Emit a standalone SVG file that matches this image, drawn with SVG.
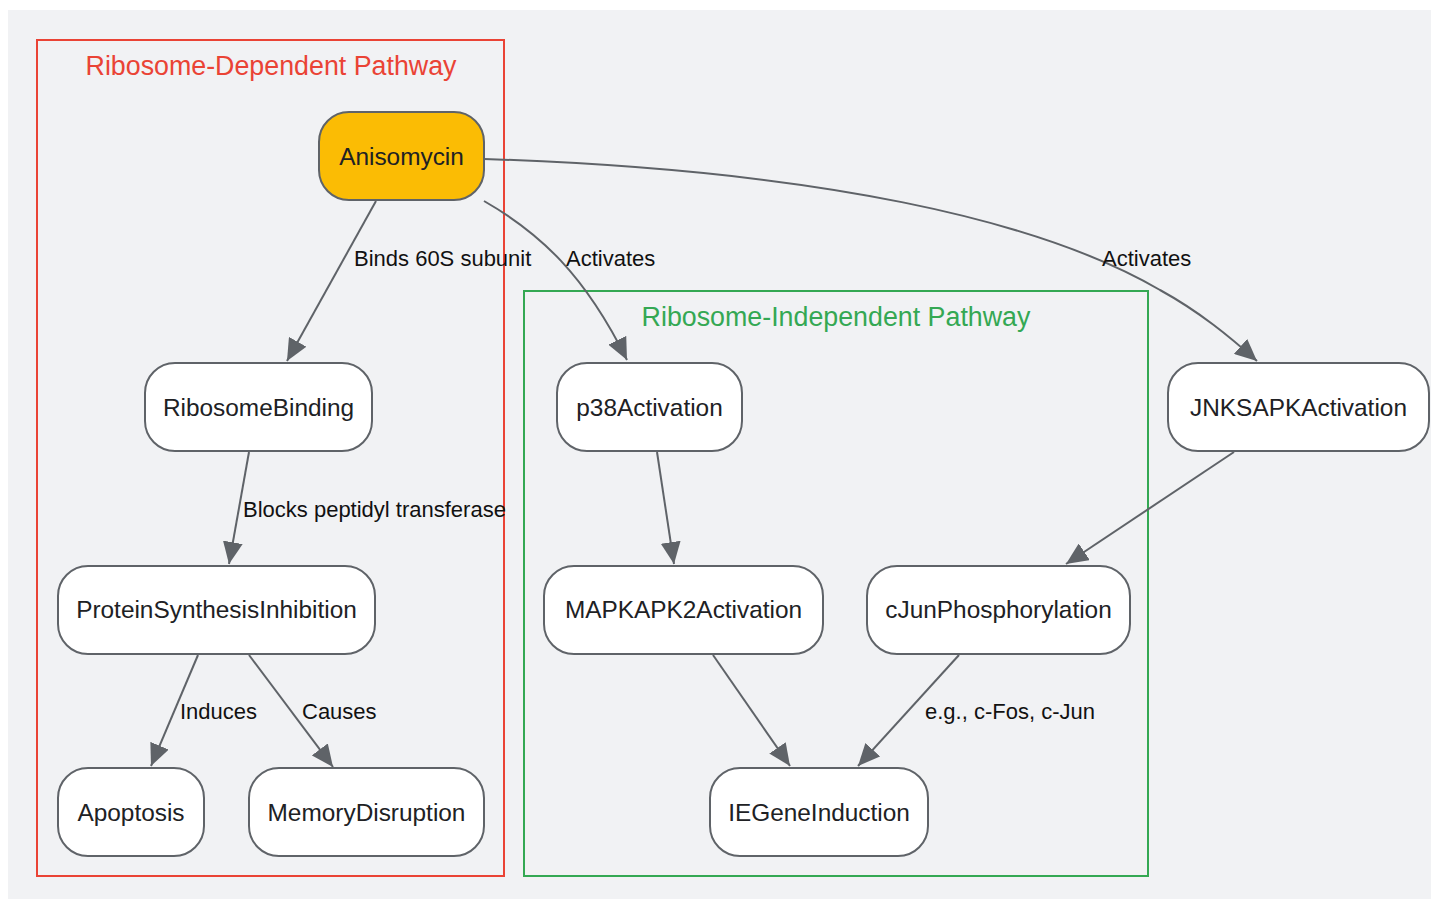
<svg xmlns="http://www.w3.org/2000/svg" width="1431" height="899" viewBox="0 0 1431 899">
<style>
.node rect{fill:#ffffff;stroke:#5f6368;stroke-width:2}
.node text{font-family:"Liberation Sans",Arial,sans-serif;font-size:24.4px;fill:#202124;text-anchor:middle}
.edge{fill:none;stroke:#5f6368;stroke-width:2;marker-end:url(#arr)}
.elabel{font-family:"Liberation Sans",Arial,sans-serif;font-size:22px;fill:#111111}
.ctitle{font-family:"Liberation Sans",Arial,sans-serif;font-size:26.8px;text-anchor:middle}
</style>
<defs>
<marker id="arr" viewBox="0 0 22 20" refX="22" refY="10" markerWidth="22" markerHeight="20" markerUnits="userSpaceOnUse" orient="auto">
<path d="M0,0 L22,10 L0,20 z" fill="#5f6368"/>
</marker>
</defs>
<rect x="0" y="0" width="1431" height="899" fill="#ffffff"/>
<rect x="8" y="10" width="1423" height="889" fill="#f1f2f4"/>
<g id="cluster-dependent">
<rect x="37" y="40" width="467" height="836" fill="none" stroke="#ea4335" stroke-width="2"/>
<text class="ctitle" x="271" y="75" fill="#ea4335">Ribosome-Dependent Pathway</text>
</g>
<g id="cluster-independent">
<rect x="524" y="291" width="624" height="585" fill="none" stroke="#34a853" stroke-width="2"/>
<text class="ctitle" x="836" y="326" fill="#34a853">Ribosome-Independent Pathway</text>
</g>
<g id="edges">
<path class="edge" d="M376,201 L287,361"/>
<path class="edge" d="M484,201 C540,233 585,275 627,360"/>
<path class="edge" d="M484,159 C820,170 1040,220 1160,290 C1200,312 1230,337 1257,361"/>
<path class="edge" d="M249,452 L229,564"/>
<path class="edge" d="M198,655 L151,766"/>
<path class="edge" d="M249,655 L333,767"/>
<path class="edge" d="M657,452 L674,564"/>
<path class="edge" d="M1234,452 L1066,564"/>
<path class="edge" d="M713,655 L790,766"/>
<path class="edge" d="M959,655 L858,766"/>
<text class="elabel" x="354" y="266">Binds 60S subunit</text>
<text class="elabel" x="566" y="266">Activates</text>
<text class="elabel" x="1102" y="266">Activates</text>
<text class="elabel" x="243" y="517">Blocks peptidyl transferase</text>
<text class="elabel" x="180" y="719">Induces</text>
<text class="elabel" x="302" y="719">Causes</text>
<text class="elabel" x="925" y="719">e.g., c-Fos, c-Jun</text>
</g>
<g id="Anisomycin" class="node"><rect x="319" y="112" width="165" height="88" rx="30" style="fill:#fbbc04"/><text x="401.5" y="164.5">Anisomycin</text></g>
<g id="RibosomeBinding" class="node"><rect x="145" y="363" width="227" height="88" rx="30"/><text x="258.5" y="415.5">RibosomeBinding</text></g>
<g id="ProteinSynthesisInhibition" class="node"><rect x="58" y="566" width="317" height="88" rx="30"/><text x="216.5" y="618">ProteinSynthesisInhibition</text></g>
<g id="Apoptosis" class="node"><rect x="58" y="768" width="146" height="88" rx="30"/><text x="131" y="820.5">Apoptosis</text></g>
<g id="MemoryDisruption" class="node"><rect x="249" y="768" width="235" height="88" rx="30"/><text x="366.5" y="820.5">MemoryDisruption</text></g>
<g id="p38Activation" class="node"><rect x="557" y="363" width="185" height="88" rx="30"/><text x="649.5" y="415.5">p38Activation</text></g>
<g id="MAPKAPK2Activation" class="node"><rect x="544" y="566" width="279" height="88" rx="30"/><text x="683.5" y="618">MAPKAPK2Activation</text></g>
<g id="cJunPhosphorylation" class="node"><rect x="867" y="566" width="263" height="88" rx="30"/><text x="998.5" y="618">cJunPhosphorylation</text></g>
<g id="IEGeneInduction" class="node"><rect x="710" y="768" width="218" height="88" rx="30"/><text x="819" y="820.5">IEGeneInduction</text></g>
<g id="JNKSAPKActivation" class="node"><rect x="1168" y="363" width="261" height="88" rx="30"/><text x="1298.5" y="415.5">JNKSAPKActivation</text></g>
</svg>
